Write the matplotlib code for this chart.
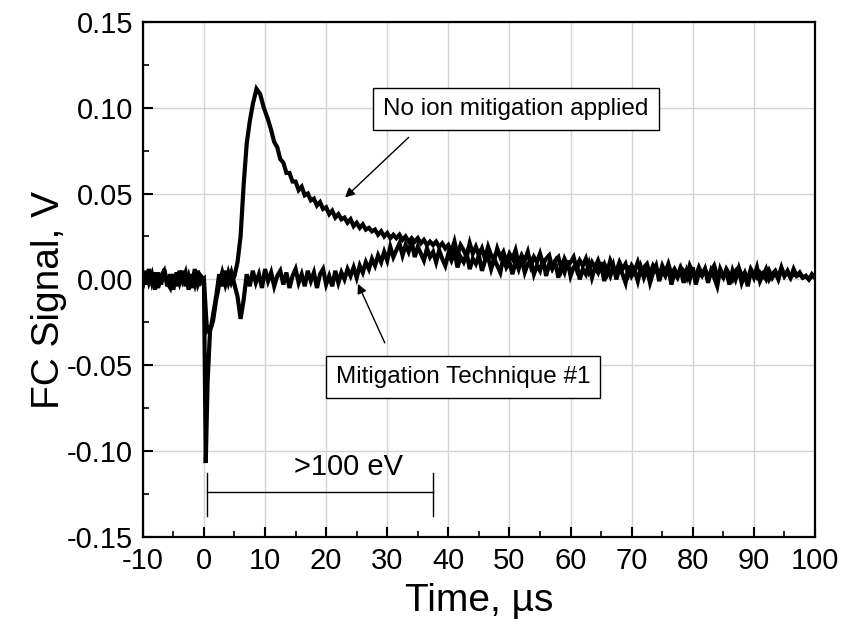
import numpy as np
import matplotlib
matplotlib.use('Agg')
from matplotlib import pyplot as plt
from matplotlib.ticker import MultipleLocator

plt.rcParams['font.family'] = ['Liberation Sans', 'DejaVu Sans']
plt.rcParams['axes.unicode_minus'] = False

# sample times (us): 0.5 us scope sampling, with the read-off points around the pulse
pre_t = list(np.arange(-10, 0, 0.5))
noion_feat_t = [0.0, 0.3, 0.6, 1.0, 1.5, 2.0, 2.5, 3.0, 3.5, 4.0, 4.5, 5.0,
                5.5, 6.0, 6.5, 7.0, 7.5, 8.0, 8.6, 9.2, 9.8, 10.5]
mitig_feat_t = [0, 0.5, 1.2, 2, 2.5, 3, 3.5, 4, 4.5, 5, 5.5, 6, 6.5, 7]

# "No ion mitigation applied" signal (V)
noion_pre = [0.003, -0.003, 0.006, -0.002, 0.004, -0.005, 0.002, 0.005, -0.004, 0.003,
             -0.006, 0.004, -0.002, 0.005, -0.004, 0.002, -0.005, 0.006, -0.003, 0.002]
noion_feat = [0.000, -0.107, -0.060, -0.030, -0.024, -0.012, -0.003, 0.004, -0.003,
              0.004, -0.002, 0.002, 0.010, 0.025, 0.055, 0.079, 0.092, 0.102, 0.111,
              0.108, 0.100, 0.093]
noion_tail = [  # 11.0 .. 100.0 every 0.5 us
    0.087, 0.080, 0.077, 0.070, 0.068, 0.062, 0.062, 0.057, 0.057, 0.052,
    0.054, 0.049, 0.050, 0.046, 0.047, 0.043, 0.045, 0.041, 0.042, 0.038,
    0.040, 0.036, 0.038, 0.035, 0.036, 0.033, 0.035, 0.031, 0.033, 0.030,
    0.032, 0.029, 0.030, 0.028, 0.029, 0.026, 0.028, 0.025, 0.027, 0.024,
    0.026, 0.024, 0.026, 0.023, 0.025, 0.022, 0.024, 0.022, 0.024, 0.021,
    0.023, 0.020, 0.022, 0.020, 0.022, 0.019, 0.021, 0.018, 0.020,
    0.016, 0.022, 0.014, 0.020, 0.017, 0.013, 0.021, 0.015, 0.019, 0.014,
    0.018, 0.012, 0.019, 0.014, 0.011, 0.018, 0.013, 0.016, 0.010, 0.015,
    0.012, 0.017, 0.009, 0.014, 0.011, 0.016, 0.008, 0.013, 0.010, 0.015,
    0.009, 0.012, 0.014, 0.007, 0.011, 0.013, 0.006, 0.012, 0.008, 0.010,
    0.013, 0.006, 0.011, 0.008, 0.012, 0.005, 0.010, 0.007, 0.011, 0.006,
    0.009, 0.004, 0.011, 0.007, 0.005, 0.010, 0.006, 0.009, 0.003, 0.008,
    0.005, 0.010, 0.004, 0.007, 0.009, 0.003, 0.008, 0.005, 0.002, 0.008,
    0.004, 0.009, 0.003, 0.006, 0.002, 0.007, 0.005, 0.001, 0.008, 0.004,
    0.002, 0.007, 0.003, 0.006, 0.001, 0.005, 0.008, 0.002, 0.004, 0.001,
    0.006, 0.003, 0.000, 0.005, 0.007, 0.002, 0.004, 0.000, 0.006, 0.003,
    0.001, 0.004, 0.002, 0.006, 0.000, 0.003, 0.005, 0.001, 0.007, 0.002,
    0.004, 0.001, 0.006, 0.002, 0.003, 0.001, 0.002, 0.000, 0.003, 0.001]

# "Mitigation Technique #1" signal (V)
mitig_pre = [-0.004, 0.005, -0.002, 0.003, -0.006, 0.004, -0.003, 0.006, -0.002, -0.005,
             0.003, -0.004, 0.005, -0.001, 0.004, -0.006, 0.003, -0.003, 0.005, -0.002]
mitig_feat = [0.000, -0.030, -0.027, -0.010, 0.003, -0.004, 0.005, -0.002, 0.004,
              -0.003, -0.010, -0.023, -0.012, 0.003]
mitig_tail = [  # 7.5 .. 100.0 every 0.5 us
    -0.004, 0.005, -0.002, 0.003, -0.005, 0.006, -0.001, 0.004, -0.004, 0.002,
    0.005, -0.003, 0.004, -0.005, 0.002, 0.006, -0.002, 0.003, -0.004, 0.005,
    -0.001, 0.004, -0.005, 0.003, 0.006, -0.003, 0.002, -0.004, 0.005, -0.002,
    0.004, 0.000, 0.006, 0.002, 0.007, 0.001, 0.008, 0.004, 0.010, 0.006,
    0.012, 0.008, 0.014, 0.010, 0.016, 0.011, 0.019, 0.013, 0.017, 0.021,
    0.014, 0.020, 0.016, 0.022, 0.013, 0.019, 0.015, 0.011, 0.018, 0.013,
    0.016, 0.010, 0.017, 0.012, 0.008, 0.015, 0.011, 0.016, 0.007, 0.013,
    0.010, 0.015, 0.006, 0.012, 0.009, 0.014, 0.005, 0.011, 0.013, 0.006,
    0.012, 0.008, 0.004, 0.013, 0.007, 0.010, 0.003, 0.011, 0.006, 0.012,
    0.004, 0.009, 0.011, 0.003, 0.008, 0.005, 0.012, 0.002, 0.009, 0.006,
    0.010, 0.001, 0.008, 0.004, 0.011, 0.002, 0.007, 0.009, 0.000, 0.006,
    0.003, 0.009, 0.001, 0.007, 0.004, 0.010, -0.001, 0.006, 0.002, 0.008,
    0.000, 0.007, 0.003, -0.002, 0.008, 0.002, 0.005, -0.001, 0.007, 0.001,
    0.006, -0.002, 0.004, 0.008, -0.001, 0.005, 0.002, 0.007, -0.003, 0.004,
    0.001, 0.006, -0.002, 0.005, 0.000, 0.007, -0.003, 0.004, 0.002, 0.006,
    -0.002, 0.005, 0.001, -0.004, 0.006, 0.002, 0.004, -0.003, 0.005, 0.000,
    0.006, -0.002, 0.003, -0.004, 0.005, 0.001, 0.007, -0.001, 0.003, 0.000,
    0.005, 0.001, 0.004, 0.000, 0.006, 0.002, 0.005, 0.001, 0.003, 0.002,
    0.004, 0.001, 0.002, 0.000, 0.002, 0.001]

noion_t = pre_t + noion_feat_t + list(np.arange(11, 100.25, 0.5))
noion_v = noion_pre + noion_feat + noion_tail
mitig_t = pre_t + mitig_feat_t + list(np.arange(7.5, 100.25, 0.5))
mitig_v = mitig_pre + mitig_feat + mitig_tail

xticks = [-10, 0, 10, 20, 30, 40, 50, 60, 70, 80, 90, 100]
yticks = [-0.15, -0.10, -0.05, 0.00, 0.05, 0.10, 0.15]

fig = plt.figure(figsize=(8.45, 6.25), dpi=100)
ax = fig.add_axes([0.169, 0.141, 0.7955, 0.824])

ax.plot(mitig_t, mitig_v, color='black', lw=3.0, solid_joinstyle='miter')
ax.plot(noion_t, noion_v, color='black', lw=3.0, solid_joinstyle='miter')

ax.set_xlim(-10, 100)
ax.set_ylim(-0.15, 0.15)
ax.set_xticks(xticks)
ax.set_yticks(yticks)
ax.set_yticklabels(['%.2f' % v for v in yticks])
ax.xaxis.set_minor_locator(MultipleLocator(5))
ax.yaxis.set_minor_locator(MultipleLocator(0.025))
ax.grid(True, which='major', color='#d3d3d3', lw=1.0)
ax.set_axisbelow(True)
ax.tick_params(which='major', direction='in', length=7, width=1.5,
               labelsize=21, pad=7)
ax.tick_params(which='minor', direction='in', length=4, width=1.2)
for s in ax.spines.values():
    s.set_linewidth(1.6)

ax.set_xlabel('Time, \u00b5s', fontsize=28, labelpad=6)
ax.set_ylabel('FC Signal, V', fontsize=28)
ax.yaxis.set_label_coords(-0.113, 0.46)

box = dict(boxstyle='square,pad=0.42', fc='white', ec='black', lw=1.0)
arrow = dict(arrowstyle='-|>', color='black', lw=1.0,
             mutation_scale=14, shrinkA=0, shrinkB=0)
ax.annotate('', xy=(23.1, 0.0477), xytext=(33.5, 0.0827), arrowprops=arrow)
ax.text(51.1, 0.0994, 'No ion mitigation applied', fontsize=17.5,
        ha='center', va='center', bbox=box)
ax.annotate('', xy=(25.2, -0.0026), xytext=(29.6, -0.037), arrowprops=arrow)
ax.text(42.4, -0.057, 'Mitigation Technique #1', fontsize=17.5,
        ha='center', va='center', bbox=box)

# >100 eV range bar
ax.plot([0.5, 37.5], [-0.1237, -0.1237], color='black', lw=1.0)
ax.plot([0.5, 0.5], [-0.1126, -0.1377], color='black', lw=1.0)
ax.plot([37.5, 37.5], [-0.1126, -0.1377], color='black', lw=1.0)
ax.text(23.6, -0.1095, '>100 eV', fontsize=21, ha='center', va='center')

fig.savefig('out.png', dpi=100)
